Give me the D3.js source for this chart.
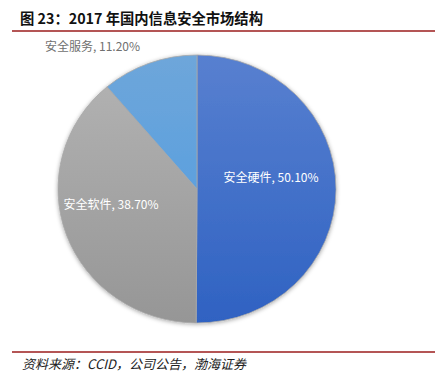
<!DOCTYPE html>
<html>
<head>
<meta charset="utf-8">
<script src="https://cdn.jsdelivr.net/npm/d3@7/dist/d3.min.js"></script>
<style>
  body { margin: 0; background: #fff; }
</style>
</head>
<body>
<svg id="chart" width="445" height="380"></svg>
<script>
// data
const categories = ["安全硬件", "安全软件", "安全服务"];
const shares = [50.10, 38.70, 11.20];
const title = "图 23：2017 年国内信息安全市场结构";
const source = "资料来源：CCID，公司公告，渤海证券";

const svg = d3.select("#chart");
const cx = 197, cy = 189, rx = 139, ry = 134;

const defs = svg.append("defs");
const grads = [
    ["g0", "#5880d0", "#2f62c2"],
    ["g1", "#b4b4b4", "#969696"],
    ["g2", "#6ea6da", "#4c9be2"]
];
grads.forEach(([id, c1, c2]) => {
    const g = defs.append("linearGradient").attr("id", id)
        .attr("gradientUnits", "userSpaceOnUse")
        .attr("x1", 0).attr("y1", -rx).attr("x2", 0).attr("y2", rx);
    g.append("stop").attr("offset", "0%").attr("stop-color", c1);
    g.append("stop").attr("offset", "100%").attr("stop-color", c2);
});
const f = defs.append("filter").attr("id", "shadow")
    .attr("x", "-10%").attr("y", "-10%").attr("width", "120%").attr("height", "120%");
f.append("feDropShadow").attr("dx", 0).attr("dy", 1).attr("stdDeviation", 2)
    .attr("flood-color", "#000").attr("flood-opacity", 0.35);

// title + rules
svg.append("text").attr("x", 20).attr("y", 24)
    .attr("font-family", "'Noto Sans CJK SC', sans-serif").attr("font-weight", "bold")
    .attr("font-size", 14.3).attr("fill", "#111").text(title);
svg.append("line").attr("x1", 12).attr("x2", 435).attr("y1", 31).attr("y2", 31)
    .attr("stroke", "#9b1c1c").attr("stroke-width", 1.5);
svg.append("line").attr("x1", 12).attr("x2", 435).attr("y1", 352).attr("y2", 352)
    .attr("stroke", "#9b1c1c").attr("stroke-width", 1.5);
svg.append("text").attr("x", 22).attr("y", 369)
    .attr("font-family", "'Noto Sans CJK SC', 'Liberation Serif', serif").attr("font-style", "italic")
    .attr("font-size", 13).attr("fill", "#222").text(source);

// pie
const pie = d3.pie().sort(null).value(d => d);
const arc = d3.arc().innerRadius(0).outerRadius(rx);
const arcs = pie(shares);

const g = svg.append("g")
    .attr("transform", `translate(${cx},${cy}) scale(1,${ry / rx})`)
    .attr("filter", "url(#shadow)");

g.selectAll("path")
    .data(arcs)
    .join("path")
    .attr("d", arc)
    .attr("fill", (d, i) => `url(#g${i})`)
    .attr("stroke", "#a8a8a8")
    .attr("stroke-width", 0.8);

// labels
const fmt = d => d.toFixed(2) + "%";
const labels = [
    {x: cx + 74, y: cy - 7, fill: "#fff", anchor: "middle"},
    {x: cx - 86, y: cy + 20, fill: "#fff", anchor: "middle"},
    {x: 45, y: 51, fill: "#707070", anchor: "start"}
];
svg.append("g").selectAll("text")
    .data(arcs)
    .join("text")
    .attr("x", (d, i) => labels[i].x)
    .attr("y", (d, i) => labels[i].y)
    .attr("text-anchor", (d, i) => labels[i].anchor)
    .attr("fill", (d, i) => labels[i].fill)
    .attr("font-family", "'Noto Sans CJK SC', sans-serif")
    .attr("font-size", 12)
    .text((d, i) => `${categories[i]}, ${fmt(d.value)}`);
</script>
</body>
</html>
